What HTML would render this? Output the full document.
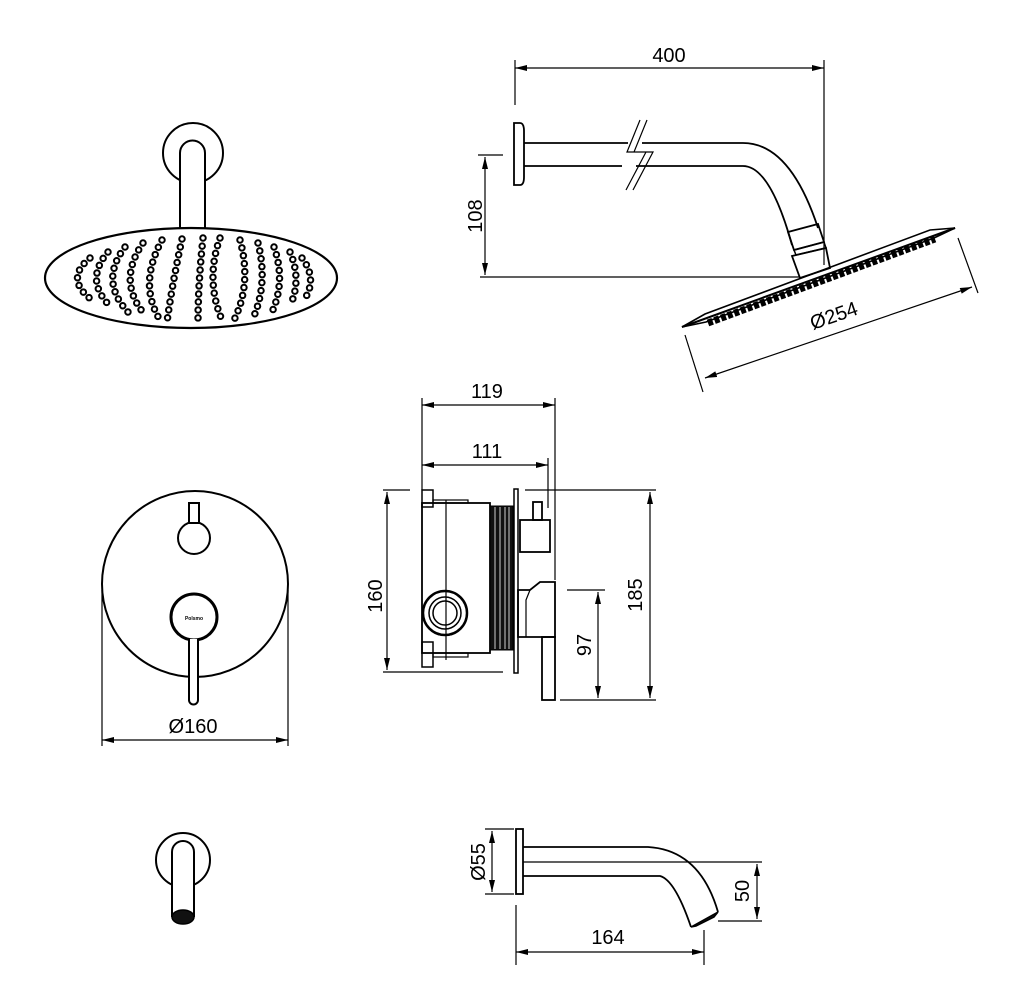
<!DOCTYPE html>
<html><head><meta charset="utf-8"><style>html,body{margin:0;padding:0;background:#fff}svg{display:block}</style></head>
<body>
<svg width="1024" height="1002" viewBox="0 0 1024 1002" xmlns="http://www.w3.org/2000/svg" font-family="Liberation Sans, Arial, sans-serif">
<defs>
<marker id="a" viewBox="0 0 12 6" refX="12" refY="3" markerWidth="12" markerHeight="6" orient="auto-start-reverse" markerUnits="userSpaceOnUse"><path d="M0,0 L12,3 L0,6 z" fill="#000"/></marker>
<g id="arms">
<path d="M90,258 Q64,279 92,300"/>
<path d="M108,252 Q84,280 110,306"/>
<path d="M125,247 Q99,281 128,312"/>
<path d="M143,243 Q116,282 146,316"/>
<path d="M162,240 Q138,284 160,320"/>
<path d="M182,239 Q172,285 167,322"/>
<path d="M203,238 Q198,285 198,322"/>
<path d="M220,238 Q205,280 222,320"/>
<path d="M240,240 Q252,284 234,320"/>
<path d="M258,243 Q268,282 254,316"/>
<path d="M274,247 Q286,281 272,312"/>
<path d="M290,252 Q302,280 290,306"/>
<path d="M302,258 Q318,279 304,300"/>
</g>
</defs>
<g fill="none" stroke="#000" stroke-width="1.2">
<!-- left shower head -->
<circle cx="193" cy="153" r="30" stroke-width="2"/>
<path d="M180,229 V153 a12.5,12.5 0 0 1 25,0 V229" fill="#fff" stroke-width="2"/>
<ellipse cx="191" cy="278" rx="146" ry="50" stroke-width="2.2"/>
<use href="#arms" stroke-width="7.5" stroke-linecap="round" stroke-dasharray="0 8"/>
<use href="#arms" stroke="#fff" stroke-width="3.5" stroke-linecap="round" stroke-dasharray="0 8"/>

<!-- right shower arm -->
<line x1="515" y1="60" x2="515" y2="105"/>
<line x1="824" y1="60" x2="824" y2="265"/>
<line x1="515" y1="68" x2="824" y2="68" marker-start="url(#a)" marker-end="url(#a)"/>
<path d="M514,123 h6 q4,0 4,8 v46 q0,8 -4,8 h-6 z" stroke-width="1.8"/>
<path d="M524,143 H628 M642,143 H743 Q790,143 818,228" stroke-width="1.8"/>
<path d="M524,166 H622 M636,166 H743 Q770,166 792,245" stroke-width="1.8"/>
<path d="M640,120 L627,152 L646,152 L626,190 M647,120 L634,152 L653,152 L633,190" stroke-width="1.2"/>
<path d="M788,232 L818,224 L824,242 L794,250 Z" stroke-width="1.8"/>
<path d="M794,250 L824,242 L826,248 L796,255 Z" stroke-width="1.5"/>
<path d="M792,256 L826,248 L830,268 L800,278 Z" stroke-width="1.8"/>
<line x1="478" y1="155" x2="503" y2="155"/>
<line x1="480" y1="277" x2="800" y2="277"/>
<line x1="485" y1="157" x2="485" y2="275" marker-start="url(#a)" marker-end="url(#a)"/>
<path d="M682,327 L705,314 L930,230 L955,228 L934,238 L706,322 Z" stroke-width="1.6"/>
<line x1="708" y1="323" x2="935" y2="239" stroke-width="7" stroke-dasharray="5 2"/>
<line x1="682" y1="327" x2="955" y2="228" stroke-width="2"/>
<line x1="685" y1="335" x2="703" y2="392"/>
<line x1="958" y1="238" x2="978" y2="293"/>
<line x1="705" y1="378" x2="972" y2="287" marker-start="url(#a)" marker-end="url(#a)"/>

<!-- mixer front -->
<circle cx="195" cy="584" r="93" stroke-width="2"/>
<line x1="102" y1="590" x2="102" y2="746"/>
<line x1="288" y1="590" x2="288" y2="746"/>
<line x1="102" y1="740" x2="288" y2="740" marker-start="url(#a)" marker-end="url(#a)"/>
<circle cx="194" cy="538" r="16" stroke-width="2"/>
<rect x="189" y="503" width="10" height="20" stroke-width="2" fill="#fff"/>
<circle cx="194" cy="617" r="23" stroke-width="3"/>
<path d="M189,639 V700 a4.5,4.5 0 0 0 9,0 V639" stroke-width="2" fill="#fff"/>

<!-- mixer side -->
<line x1="383" y1="490" x2="410" y2="490"/>
<line x1="383" y1="672" x2="503" y2="672"/>
<line x1="387" y1="492" x2="387" y2="670" marker-start="url(#a)" marker-end="url(#a)"/>
<rect x="422" y="503" width="68" height="150" stroke-width="1.8"/>
<rect x="422" y="490" width="11" height="17" stroke-width="1.5"/>
<rect x="422" y="642" width="11" height="25" stroke-width="1.5"/>
<rect x="433" y="500" width="35" height="3" stroke-width="1.2"/>
<rect x="433" y="653" width="35" height="4" stroke-width="1.2"/>
<line x1="446" y1="500" x2="446" y2="660" stroke-width="1.2"/>
<rect x="490" y="506" width="23" height="144" fill="#111" stroke-width="1"/>
<g stroke="#fff" stroke-width="0.8"><line x1="495" y1="507" x2="495" y2="649"/><line x1="500" y1="507" x2="500" y2="649"/><line x1="505" y1="507" x2="505" y2="649"/><line x1="509" y1="507" x2="509" y2="649"/></g>
<rect x="514" y="489" width="4" height="184" stroke-width="1.5"/>
<rect x="520" y="520" width="30" height="32" stroke-width="1.8"/>
<rect x="533" y="502" width="9" height="18" stroke-width="1.8"/>
<path d="M518,590 H530 L540,582 H555 V637 H518 Z" stroke-width="1.8"/>
<path d="M530,590 L526,600 V637" stroke-width="1.2"/>
<rect x="542" y="637" width="13" height="63" stroke-width="1.8"/>
<circle cx="445" cy="613" r="22" stroke-width="2.5"/>
<circle cx="445" cy="613" r="16" stroke-width="1.5"/>
<circle cx="445" cy="613" r="12" stroke-width="1.5"/>
<line x1="422" y1="398" x2="422" y2="490"/>
<line x1="555" y1="398" x2="555" y2="580"/>
<line x1="422" y1="405" x2="555" y2="405" marker-start="url(#a)" marker-end="url(#a)"/>
<line x1="548" y1="458" x2="548" y2="508"/>
<line x1="422" y1="465" x2="548" y2="465" marker-start="url(#a)" marker-end="url(#a)"/>
<line x1="525" y1="490" x2="656" y2="490"/>
<line x1="560" y1="700" x2="656" y2="700"/>
<line x1="650" y1="492" x2="650" y2="698" marker-start="url(#a)" marker-end="url(#a)"/>
<line x1="567" y1="590" x2="605" y2="590"/>
<line x1="598" y1="592" x2="598" y2="698" marker-start="url(#a)" marker-end="url(#a)"/>

<!-- spout front -->
<circle cx="183" cy="860" r="27" stroke-width="2"/>
<path d="M172,917 V852 a11,11 0 0 1 22,0 V917" fill="#fff" stroke-width="2"/>
<ellipse cx="183" cy="917" rx="11" ry="7" fill="#111" stroke-width="1.5"/>

<!-- spout side -->
<rect x="516" y="829" width="7" height="65" stroke-width="1.8"/>
<path d="M523,847 H648 Q700,850 718,912" stroke-width="1.8"/>
<path d="M523,876 H660 Q675,880 691,927" stroke-width="1.8"/>
<path d="M691,927 L718,912 L714,917 L696,926 Z" fill="#111" stroke-width="1.5"/>
<line x1="523" y1="862" x2="762" y2="862"/>
<line x1="485" y1="829" x2="514" y2="829"/>
<line x1="485" y1="894" x2="514" y2="894"/>
<line x1="492" y1="831" x2="492" y2="892" marker-start="url(#a)" marker-end="url(#a)"/>
<line x1="718" y1="921" x2="762" y2="921"/>
<line x1="757" y1="864" x2="757" y2="919" marker-start="url(#a)" marker-end="url(#a)"/>
<line x1="516" y1="905" x2="516" y2="965"/>
<line x1="704" y1="930" x2="704" y2="965"/>
<line x1="516" y1="952" x2="704" y2="952" marker-start="url(#a)" marker-end="url(#a)"/>
</g>
<g font-size="20" fill="#000" text-anchor="middle">
<text x="669" y="62">400</text>
<text transform="translate(482,216) rotate(-90)">108</text>
<text transform="translate(836,322) rotate(-19)">Ø254</text>
<text x="193" y="733">Ø160</text>
<text x="487" y="398">119</text>
<text x="487" y="458">111</text>
<text transform="translate(382,596) rotate(-90)">160</text>
<text transform="translate(642,595) rotate(-90)">185</text>
<text transform="translate(591,645) rotate(-90)">97</text>
<text transform="translate(485,862) rotate(-90)">Ø55</text>
<text transform="translate(749,891) rotate(-90)">50</text>
<text x="608" y="944">164</text>
<text x="194" y="620" font-size="5" font-weight="bold">Polsmo</text>
</g>
</svg>
</body></html>
